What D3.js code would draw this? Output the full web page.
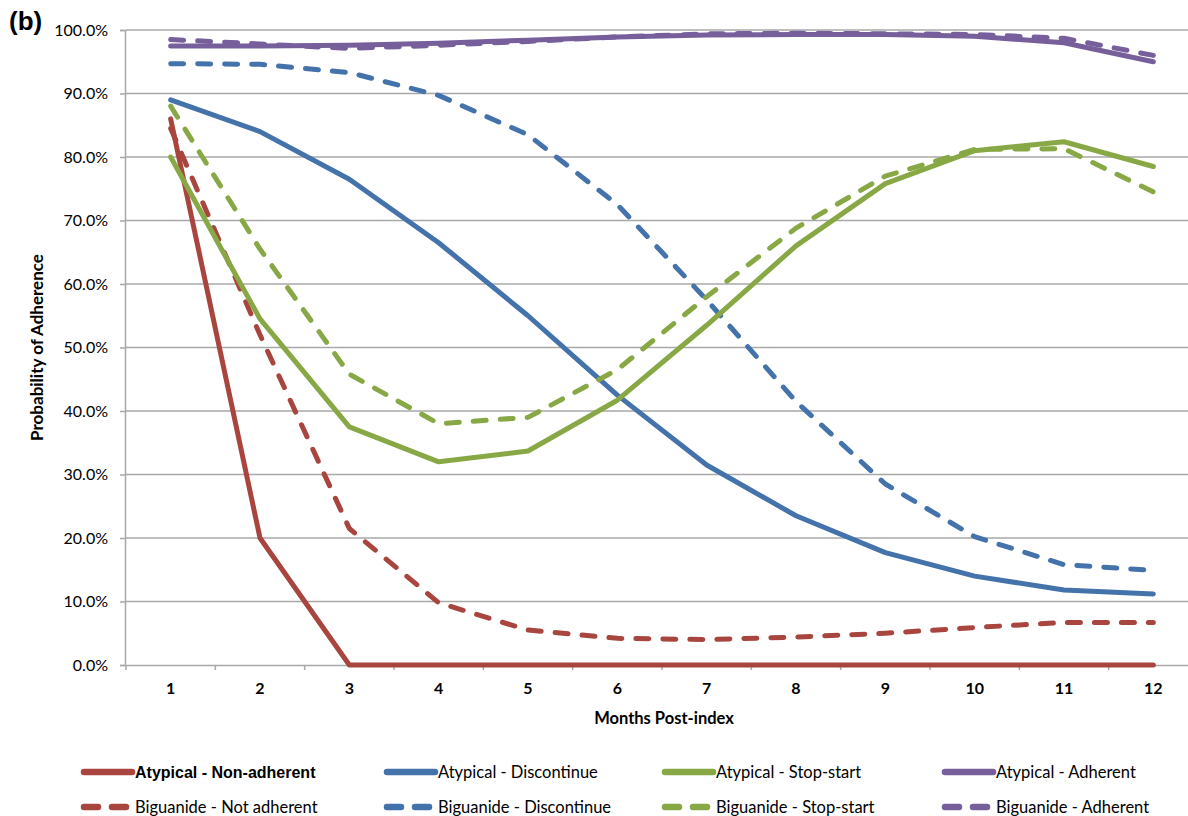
<!DOCTYPE html>
<html>
<head>
<meta charset="utf-8">
<script src="https://cdn.jsdelivr.net/npm/d3@7/dist/d3.min.js"></script>
<style>
  html, body { margin: 0; padding: 0; background: #fff; }
  svg { display: block; }
</style>
</head>
<body>
<svg id="chart" width="1188" height="816"></svg>
<script>
// Months after index date
const months = [1, 2, 3, 4, 5, 6, 7, 8, 9, 10, 11, 12];
const yTicks = [0, 10, 20, 30, 40, 50, 60, 70, 80, 90, 100];

// Probability of adherence (%) per trajectory group
const atypicalNonAdherent   = [86.0, 20.0, 0.0, 0.0, 0.0, 0.0, 0.0, 0.0, 0.0, 0.0, 0.0, 0.0];
const biguanideNotAdherent  = [84.5, 52.0, 21.5, 9.8, 5.5, 4.2, 4.0, 4.4, 5.0, 5.9, 6.7, 6.7];
const atypicalDiscontinue   = [89.0, 84.0, 76.5, 66.5, 55.0, 42.5, 31.5, 23.5, 17.7, 14.0, 11.8, 11.2];
const biguanideDiscontinue  = [94.7, 94.6, 93.3, 89.7, 83.5, 72.5, 57.5, 41.5, 28.5, 20.2, 15.8, 14.9];
const atypicalStopStart     = [80.0, 54.5, 37.5, 32.0, 33.7, 41.7, 53.5, 66.0, 75.8, 81.0, 82.4, 78.5];
const biguanideStopStart    = [88.0, 65.5, 45.8, 38.0, 39.0, 46.5, 58.0, 68.8, 77.0, 81.2, 81.3, 74.5];
const atypicalAdherent      = [97.5, 97.5, 97.6, 97.9, 98.4, 98.9, 99.2, 99.3, 99.3, 99.0, 98.0, 95.0];
const biguanideAdherent     = [98.5, 97.8, 97.1, 97.6, 98.2, 98.9, 99.4, 99.5, 99.4, 99.3, 98.7, 96.0];

const seriesNames = [
  "Atypical - Non-adherent", "Atypical - Discontinue", "Atypical - Stop-start", "Atypical - Adherent",
  "Biguanide - Not adherent", "Biguanide - Discontinue", "Biguanide - Stop-start", "Biguanide - Adherent"
];
const seriesValues = [
  atypicalNonAdherent, atypicalDiscontinue, atypicalStopStart, atypicalAdherent,
  biguanideNotAdherent, biguanideDiscontinue, biguanideStopStart, biguanideAdherent
];
const palette = ["#A8453F", "#4472AB", "#88A845", "#765F9B"];

const series = seriesNames.map((name, i) => ({
  name,
  values: seriesValues[i],
  color: palette[i % 4],
  dashed: i >= 4
}));

const svg = d3.select("#chart");
const plot = { left: 126, right: 1198, top: 30, bottom: 665 };

const x = d3.scaleBand().domain(months).range([plot.left, plot.right]);
const y = d3.scaleLinear().domain([0, 100]).range([plot.bottom, plot.top]);
const cx = m => x(m) + x.bandwidth() / 2;

const calibri = "Lato, 'Open Sans', sans-serif";
const gridColor = "#A8A8A8";

// Horizontal gridlines
svg.append("g")
  .selectAll("line")
  .data(yTicks.filter(t => t > 0))
  .join("line")
  .attr("x1", plot.left).attr("x2", plot.right)
  .attr("y1", d => y(d)).attr("y2", d => y(d))
  .attr("stroke", gridColor).attr("stroke-width", 1.5);

// Y axis
const yAxis = svg.append("g")
  .attr("transform", `translate(${plot.left - 1},0)`)
  .call(d3.axisLeft(y).tickValues(yTicks).tickSize(5).tickPadding(12)
    .tickFormat(d => d.toFixed(1) + "%"));
yAxis.select(".domain").attr("stroke", gridColor).attr("stroke-width", 1.5);
yAxis.selectAll(".tick line").attr("stroke", gridColor).attr("stroke-width", 1.5);
yAxis.selectAll(".tick text")
  .attr("font-family", calibri).attr("font-size", 16).attr("fill", "#000");

// X axis with ticks on category boundaries
const xAxis = svg.append("g")
  .attr("transform", `translate(0,${plot.bottom})`)
  .call(d3.axisBottom(x).tickSize(0).tickPadding(18));
xAxis.select(".domain").attr("stroke", gridColor).attr("stroke-width", 1.5);
xAxis.selectAll(".tick text")
  .attr("font-family", calibri).attr("font-size", 16).attr("font-weight", "bold").attr("fill", "#000");
xAxis.append("g")
  .selectAll("line")
  .data(months)
  .join("line")
  .attr("x1", d => x(d)).attr("x2", d => x(d))
  .attr("y1", 0).attr("y2", 5)
  .attr("stroke", gridColor).attr("stroke-width", 1.5);

// Lines
const line = d3.line()
  .x((d, i) => cx(months[i]))
  .y(d => y(d));

const order = [0, 4, 1, 5, 2, 6, 3, 7];
svg.append("g")
  .selectAll("path")
  .data(order.map(i => series[i]))
  .join("path")
  .attr("d", d => line(d.values))
  .attr("fill", "none")
  .attr("stroke", d => d.color)
  .attr("stroke-width", 5)
  .attr("stroke-linejoin", "round")
  .attr("stroke-linecap", "round")
  .attr("stroke-dasharray", d => d.dashed ? "13,14" : null);

// Axis titles
svg.append("text")
  .attr("x", (plot.left + plot.right) / 2 + 2).attr("y", 724)
  .attr("text-anchor", "middle")
  .attr("font-family", calibri).attr("font-size", 16.5).attr("font-weight", "bold")
  .text("Months Post-index");

svg.append("text")
  .attr("transform", `translate(43,${(plot.top + plot.bottom) / 2}) rotate(-90)`)
  .attr("text-anchor", "middle")
  .attr("font-family", calibri).attr("font-size", 17).attr("font-weight", "bold")
  .text("Probability of Adherence");

// Panel label
svg.append("text")
  .attr("x", 9).attr("y", 30)
  .attr("font-family", "'Liberation Sans', Arial, sans-serif")
  .attr("font-size", 26).attr("font-weight", "bold")
  .text("(b)");

// Legend: two rows (atypical solid, biguanide dashed), four columns
const legendCols = [82, 385, 663, 943];
const legendRows = [772, 807];
const legend = svg.append("g");
series.forEach((s, i) => {
  const col = i % 4, row = Math.floor(i / 4);
  const lx = legendCols[col], ly = legendRows[row];
  const g = legend.append("g").attr("transform", `translate(${lx},${ly})`);
  if (s.dashed) {
    g.append("line").attr("x1", 2).attr("x2", 48).attr("y1", 0).attr("y2", 0)
      .attr("stroke", s.color).attr("stroke-width", 6.5)
      .attr("stroke-linecap", "round").attr("stroke-dasharray", "14,14");
  } else {
    g.append("line").attr("x1", 2).attr("x2", 50).attr("y1", 0).attr("y2", 0)
      .attr("stroke", s.color).attr("stroke-width", 6.5)
      .attr("stroke-linecap", "round");
  }
  const first = i === 0;
  g.append("text")
    .attr("x", 53).attr("y", 0).attr("dy", "0.35em")
    .attr("font-family", first ? "'Liberation Sans', Arial, sans-serif" : calibri)
    .attr("font-weight", first ? "bold" : "normal")
    .attr("font-size", first ? 16 : 16.5)
    .attr("fill", "#000")
    .text(s.name);
});
</script>
</body>
</html>
